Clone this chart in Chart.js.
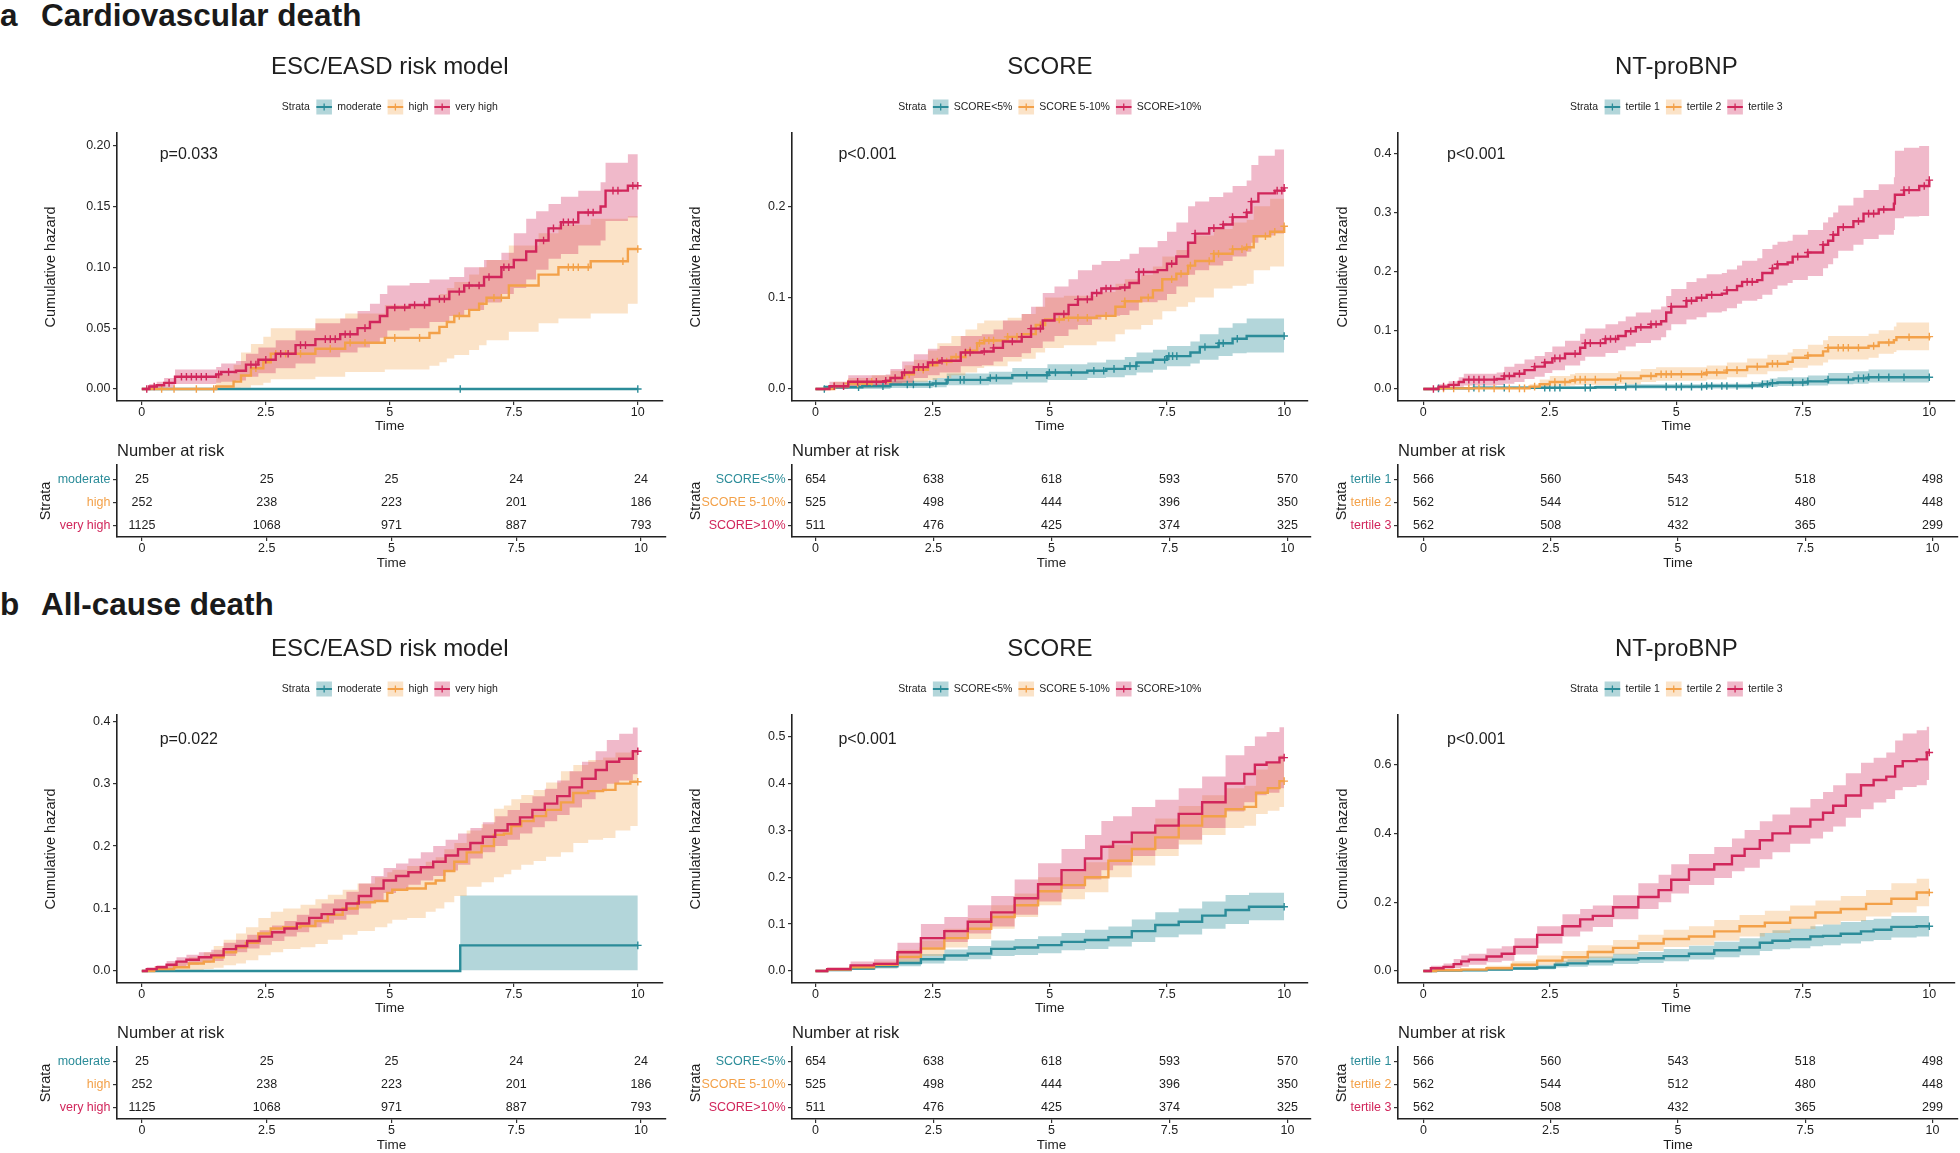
<!DOCTYPE html>
<html><head><meta charset="utf-8">
<script src="https://cdn.jsdelivr.net/npm/chart.js@4.4.1/dist/chart.umd.min.js"></script>
<style>
body{margin:0;background:#fff;width:1960px;height:1153px;position:relative;overflow:hidden}
canvas{position:absolute}
.hdr{position:absolute;font:bold 31.5px/31px "Liberation Sans",Arial,sans-serif;color:#1a1a1a;white-space:nowrap}
</style></head><body>
<div class="hdr" style="left:0;top:0">a</div><div class="hdr" style="left:41px;top:0">Cardiovascular death</div>
<div class="hdr" style="left:0;top:589px">b</div><div class="hdr" style="left:41px;top:589px">All-cause death</div>
<script>
/* KM cumulative hazard panels + number-at-risk tables */

const timeTicks=[0,2.5,5,7.5,10];
const strataEsc=['moderate','high','very high'];
const strataScore=['SCORE<5%','SCORE 5-10%','SCORE>10%'];
const strataBnp=['tertile 1','tertile 2','tertile 3'];
const riskEsc=[[25,25,25,24,24],[252,238,223,201,186],[1125,1068,971,887,793]];
const riskScore=[[654,638,618,593,570],[525,498,444,396,350],[511,476,425,374,325]];
const riskBnp=[[566,560,543,518,498],[562,544,512,480,448],[562,508,432,365,299]];
const yTicksA1=[0,0.05,0.1,0.15,0.2], yTicksA2=[0,0.1,0.2], yTicksA3=[0,0.1,0.2,0.3,0.4];
const yTicksB1=[0,0.1,0.2,0.3,0.4], yTicksB2=[0,0.1,0.2,0.3,0.4,0.5], yTicksB3=[0,0.2,0.4,0.6];

/* step tables: [time, cumhaz, lower, upper] */
const cvEscMod=[[0,0,0,0],[10,0,0,0]];
const cvEscHigh=[[0,0,0,0],[1.5,.002,0,.012],[1.85,.006,0,.020],[2.0,.011,.001,.030],[2.2,.017,.003,.037],[2.45,.022,.005,.043],
 [2.6,.029,.008,.050],[3.5,.033,.010,.058],[4.1,.038,.014,.062],[4.9,.042,.016,.069],[5.8,.046,.019,.073],[6.0,.051,.022,.078],
 [6.15,.055,.025,.083],[6.3,.060,.028,.088],[6.6,.065,.032,.094],[6.8,.070,.036,.100],[6.95,.075,.040,.106],[7.4,.085,.047,.118],
 [8.0,.094,.054,.128],[8.4,.100,.058,.135],[9.05,.105,.062,.140],[9.8,.115,.070,.142],[10,.115,.070,.142]];
const cvEscVhigh=[[0,0,0,0],[0.15,.002,0,.004],[0.3,.003,0,.006],[0.45,.005,.001,.009],[0.67,.010,.004,.016],[1.5,.012,.005,.018],
 [1.6,.014,.006,.021],[1.9,.015,.007,.023],[2.1,.020,.010,.029],[2.35,.024,.013,.034],[2.7,.029,.017,.040],[3.1,.036,.021,.048],
 [3.5,.041,.026,.054],[4.0,.045,.030,.058],[4.35,.050,.034,.064],[4.6,.055,.038,.070],[4.8,.060,.042,.078],[4.95,.067,.048,.085],
 [5.4,.069,.050,.087],[5.8,.074,.055,.090],[6.2,.080,.060,.092],[6.5,.085,.065,.100],[6.9,.092,.071,.106],[7.25,.100,.078,.112],
 [7.5,.106,.083,.128],[7.75,.113,.090,.140],[7.95,.122,.098,.146],[8.2,.132,.107,.152],[8.45,.137,.111,.158],[8.8,.145,.118,.163],
 [9.25,.150,.122,.170],[9.35,.163,.138,.186],[9.8,.167,.141,.193],[10,.167,.141,.194]];
const cvEscModCens=[6.42,10];
const cvEscHighCens=[0.4,0.65,1.1,1.45,2.3,2.7,2.9,3.2,3.8,4.2,4.5,5.1,5.6,6.4,7.1,7.25,8.6,8.7,8.8,9.0,9.7,10];
const cvEscVhighCens=[0.1,0.25,0.55,0.8,0.9,1.0,1.1,1.2,1.3,1.55,1.75,2.2,2.3,2.5,2.8,2.95,3.2,3.3,3.7,3.8,3.9,4.1,4.2,4.5,
 5.1,5.3,5.5,5.7,6.0,6.1,6.4,6.6,6.8,7.0,7.3,7.4,8.1,8.3,8.5,8.6,8.7,9.0,9.1,9.5,9.6,9.9,10];

const cvScoreLow=[[0,0,0,0],[0.2,.002,0,.004],[1.0,.003,0,.006],[1.6,.005,.001,.009],[2.5,.006,.002,.012],[2.8,.010,.004,.017],
 [3.7,.012,.005,.019],[4.2,.015,.007,.023],[4.95,.018,.010,.027],[5.8,.020,.012,.029],[6.2,.022,.013,.032],[6.6,.025,.015,.035],
 [6.85,.029,.018,.040],[7.2,.032,.021,.043],[7.5,.036,.025,.047],[8.0,.040,.028,.052],[8.2,.046,.032,.060],[8.6,.050,.036,.067],
 [8.9,.055,.039,.072],[9.2,.058,.040,.077],[10,.058,.040,.077]];
const cvScoreMid=[[0,0,0,0],[0.4,.003,0,.008],[0.7,.006,.001,.012],[1.2,.008,.002,.015],[1.6,.012,.004,.020],[1.9,.016,.006,.026],
 [2.1,.021,.008,.032],[2.4,.026,.010,.042],[2.6,.030,.012,.050],[2.9,.035,.015,.058],[3.2,.042,.018,.065],[3.45,.050,.023,.072],
 [3.6,.053,.025,.075],[4.1,.057,.030,.078],[4.4,.060,.033,.082],[4.7,.070,.040,.090],[4.9,.076,.045,.100],[5.3,.078,.048,.102],
 [6.0,.080,.052,.106],[6.4,.090,.060,.115],[6.6,.096,.065,.120],[6.95,.100,.070,.125],[7.2,.108,.076,.134],[7.4,.120,.085,.145],
 [7.7,.126,.090,.152],[7.95,.135,.095,.160],[8.1,.140,.100,.168],[8.5,.148,.110,.175],[8.9,.153,.113,.182],[9.2,.155,.115,.185],
 [9.35,.167,.130,.200],[9.7,.172,.134,.208],[10,.178,.138,.215]];
const cvScoreHigh=[[0,0,0,0],[0.3,.003,0,.008],[0.7,.008,.002,.015],[1.5,.009,.003,.016],[1.6,.012,.004,.022],[1.85,.018,.007,.030],
 [2.1,.024,.012,.038],[2.4,.029,.015,.044],[2.65,.031,.018,.047],[3.1,.040,.025,.058],[3.55,.041,.026,.060],[3.8,.045,.030,.065],
 [4.0,.052,.035,.075],[4.4,.057,.039,.082],[4.6,.066,.045,.090],[4.85,.075,.052,.105],[5.1,.082,.058,.112],[5.4,.092,.065,.120],
 [5.6,.098,.070,.130],[5.9,.105,.076,.136],[6.1,.110,.080,.140],[6.5,.111,.081,.142],[6.7,.116,.086,.148],[6.9,.128,.095,.155],
 [7.3,.130,.097,.162],[7.5,.137,.104,.172],[7.7,.145,.112,.182],[7.95,.160,.125,.200],[8.1,.170,.130,.205],[8.4,.176,.135,.210],
 [8.7,.180,.140,.215],[8.9,.188,.145,.222],[9.2,.193,.150,.228],[9.3,.205,.160,.245],[9.45,.214,.168,.255],[9.8,.217,.170,.262],
 [10,.220,.172,.265]];
const cvScoreLowCens=[0.19,0.92,1.44,1.96,2.09,2.44,2.57,2.83,3.09,3.17,3.52,3.73,3.86,4.51,4.94,4.99,5.12,5.46,5.94,6.15,
 6.37,6.71,6.84,7.45,7.54,7.62,7.71,8.31,8.61,8.7,9.0,10];
const cvScoreMidCens=[0.4,0.7,0.9,1.2,2.0,2.3,2.6,2.8,3.0,3.3,3.5,3.6,3.7,3.8,4.1,4.3,4.8,5.2,5.4,5.6,5.8,6.2,6.6,7.1,7.6,
 7.8,8.0,8.4,8.5,8.6,8.9,9.1,9.2,9.6,9.8,10];
const cvScoreHighCens=[0.4,0.6,0.9,1.1,1.3,1.5,1.7,1.9,2.2,2.3,2.5,2.7,3.2,3.3,3.6,3.8,4.2,4.4,4.6,4.8,5.3,5.6,5.8,6.0,6.2,
 6.3,6.6,6.9,7.0,7.6,8.1,8.5,8.7,8.9,9.2,9.3,9.85,9.95,10];

const cvBnpT1=[[0,0,0,0],[0.3,.001,0,.003],[1.0,.002,0,.004],[3.4,.003,0,.006],[4.0,.004,.001,.008],[5.6,.005,.001,.009],
 [6.5,.006,.002,.012],[6.7,.008,.003,.015],[6.85,.010,.004,.018],[7.0,.011,.005,.020],[7.6,.013,.006,.023],[8.0,.016,.008,.027],
 [8.5,.018,.009,.030],[8.8,.020,.011,.033],[10,.020,.011,.033]];
const cvBnpT2=[[0,0,0,0],[0.3,.001,0,.003],[2.1,.004,.001,.008],[2.3,.008,.003,.016],[2.5,.012,.005,.022],[2.9,.014,.006,.025],
 [3.0,.016,.007,.027],[3.85,.018,.008,.030],[4.3,.022,.012,.034],[4.6,.025,.014,.037],[5.6,.028,.016,.040],[6.0,.032,.020,.045],
 [6.4,.038,.025,.052],[6.8,.043,.030,.058],[7.2,.046,.032,.062],[7.3,.053,.036,.068],[7.6,.057,.040,.075],[7.9,.064,.045,.083],
 [8.0,.070,.050,.090],[8.8,.073,.053,.094],[9.0,.079,.060,.100],[9.3,.083,.063,.106],[9.35,.088,.066,.113],[10,.089,.066,.115]];
const cvBnpT3=[[0,0,0,0],[0.3,.004,.001,.008],[0.5,.007,.002,.013],[0.7,.012,.004,.020],[0.8,.016,.006,.026],[1.45,.017,.007,.028],
 [1.6,.022,.009,.038],[1.8,.026,.012,.043],[2.0,.032,.017,.050],[2.2,.038,.021,.056],[2.4,.045,.027,.063],[2.55,.052,.032,.072],
 [2.8,.060,.040,.082],[3.1,.070,.048,.094],[3.2,.078,.055,.103],[3.6,.085,.061,.110],[3.85,.090,.066,.115],[4.0,.098,.072,.123],
 [4.2,.105,.078,.130],[4.5,.110,.083,.135],[4.7,.115,.088,.140],[4.8,.130,.100,.158],[4.9,.140,.110,.170],[5.2,.150,.118,.182],
 [5.4,.155,.122,.188],[5.6,.160,.130,.195],[5.9,.162,.132,.197],[6.0,.168,.137,.203],[6.2,.175,.145,.210],[6.3,.182,.150,.218],
 [6.6,.185,.153,.222],[6.7,.197,.160,.238],[6.9,.205,.170,.245],[7.0,.212,.176,.250],[7.2,.215,.180,.252],[7.3,.225,.185,.262],
 [7.6,.232,.192,.270],[7.9,.245,.205,.283],[8.0,.252,.212,.292],[8.1,.262,.222,.300],[8.2,.275,.235,.312],[8.5,.285,.245,.325],
 [8.7,.298,.255,.338],[9.0,.305,.262,.348],[9.3,.315,.270,.360],[9.32,.330,.290,.405],[9.5,.338,.293,.410],[9.8,.345,.294,.413],
 [10,.355,.295,.415]];
const cvBnpT1Cens=[0.3,1.0,1.2,1.6,2.4,2.5,2.6,2.7,3.2,3.3,3.8,4.0,4.2,4.8,5.0,5.1,5.3,5.5,5.6,5.7,5.9,6.0,6.2,6.5,6.7,
 6.8,6.9,7.3,7.5,7.6,8.0,8.4,8.6,8.7,8.8,9.0,9.2,9.5,10];
const cvBnpT2Cens=[0.4,0.6,0.9,1.1,1.4,1.7,1.9,2.0,2.2,2.6,2.8,3.0,3.1,3.2,3.4,3.9,4.5,4.7,4.8,4.9,5.1,5.5,5.6,5.8,6.0,
 6.2,6.6,6.9,7.0,7.6,8.0,8.2,8.3,8.4,8.6,8.9,9.2,9.6,10];
const cvBnpT3Cens=[0.2,0.4,0.6,0.9,1.0,1.1,1.2,1.4,1.6,1.7,1.9,2.2,2.4,2.6,2.7,3.0,3.2,3.3,3.5,3.6,3.7,3.8,4.1,4.3,4.5,
 4.6,4.9,5.2,5.3,5.5,5.7,6.0,6.4,6.5,6.9,7.0,7.4,7.6,7.9,8.1,8.3,8.6,8.8,8.9,9.1,9.5,9.6,9.9,10];

/* row b: moderate has one exact jump, the rest are readings at sample times */
const acEscMod=[[0,0,0,0],[6.42,.041,.001,.121],[10,.041,.001,.121]];
const acEscHigh=[[0,0,0,0],[0.5,.003,0,.008],[0.8,.006,0,.014],[1.1,.012,.001,.022],[1.4,.015,.003,.030],[1.5,.022,.005,.040],
 [1.8,.030,.009,.050],[2.0,.038,.012,.060],[2.2,.045,.017,.070],[2.5,.060,.025,.085],[2.7,.068,.030,.095],[3.0,.070,.035,.100],
 [3.4,.072,.038,.106],[3.6,.080,.043,.115],[3.9,.090,.050,.122],[4.2,.100,.058,.130],[4.5,.110,.064,.140],[4.9,.112,.070,.150],
 [5.0,.125,.076,.158],[5.1,.130,.082,.162],[5.6,.132,.085,.168],[5.85,.140,.095,.175],[6.0,.145,.100,.182],[6.2,.160,.110,.195],
 [6.4,.175,.120,.205],[6.7,.190,.135,.225],[7.0,.200,.142,.235],[7.2,.218,.150,.260],[7.4,.220,.155,.265],[7.5,.232,.162,.275],
 [7.8,.240,.170,.282],[8.0,.248,.176,.290],[8.3,.258,.183,.302],[8.6,.270,.190,.320],[8.8,.285,.205,.330],[9.2,.288,.210,.338],
 [9.4,.290,.213,.342],[9.7,.300,.225,.350],[10,.303,.232,.352]];
const acEscVhigh=[[0,0,0,0],[0.2,.003,0,.006],[0.4,.006,.001,.009],[0.6,.010,.004,.016],[0.8,.015,.008,.022],[1.0,.018,.010,.026],
 [1.3,.022,.013,.030],[1.5,.025,.016,.034],[1.8,.035,.024,.045],[2.0,.040,.030,.050],[2.25,.048,.036,.058],[2.5,.055,.042,.065],
 [2.75,.062,.048,.073],[3.0,.068,.055,.080],[3.25,.076,.062,.090],[3.5,.085,.070,.100],[3.75,.091,.076,.108],[4.0,.098,.082,.115],
 [4.25,.108,.090,.127],[4.5,.120,.100,.140],[4.75,.132,.112,.152],[5.0,.145,.125,.165],[5.25,.152,.131,.172],[5.5,.158,.138,.180],
 [5.75,.166,.145,.190],[6.0,.175,.152,.200],[6.25,.185,.161,.210],[6.5,.195,.170,.220],[6.75,.205,.180,.229],[7.0,.215,.190,.238],
 [7.25,.225,.200,.248],[7.5,.235,.210,.258],[7.75,.246,.220,.269],[8.0,.258,.230,.280],[8.25,.268,.240,.292],[8.5,.280,.250,.305],
 [8.75,.294,.262,.320],[9.0,.308,.275,.335],[9.3,.322,.288,.352],[9.45,.335,.300,.370],[9.8,.340,.305,.380],[10,.352,.315,.390]];

const acScoreLow=[[0,0,0,0],[0.5,.002,0,.004],[1.0,.005,.002,.008],[1.5,.010,.005,.016],[2.0,.017,.010,.025],[2.5,.025,.016,.036],
 [3.0,.033,.022,.046],[3.5,.037,.025,.053],[4.0,.047,.032,.065],[4.5,.050,.034,.068],[5.0,.055,.038,.074],[5.5,.062,.044,.081],
 [6.0,.066,.047,.088],[6.5,.072,.052,.095],[7.0,.085,.062,.110],[7.5,.098,.072,.125],[8.0,.105,.078,.133],[8.5,.118,.090,.148],
 [9.0,.130,.100,.162],[9.5,.137,.108,.167],[10,.137,.108,.167]];
const acScoreMid=[[0,0,0,0],[0.5,.003,.001,.007],[1.0,.008,.004,.012],[1.5,.013,.007,.020],[2.0,.030,.018,.045],[2.5,.048,.032,.065],
 [3.0,.070,.050,.090],[3.5,.090,.068,.113],[4.0,.115,.090,.140],[4.5,.140,.115,.165],[5.0,.170,.140,.200],[5.5,.183,.153,.212],
 [6.0,.200,.168,.232],[6.5,.235,.200,.270],[7.0,.260,.225,.297],[7.5,.285,.245,.325],[8.0,.310,.270,.352],[8.5,.330,.290,.375],
 [9.0,.345,.305,.390],[9.3,.350,.310,.395],[9.5,.380,.335,.430],[9.8,.390,.342,.445],[10,.405,.350,.460]];
const acScoreHigh=[[0,0,0,0],[0.5,.004,.001,.008],[1.0,.012,.005,.020],[1.5,.015,.008,.025],[2.0,.040,.025,.060],[2.5,.070,.050,.100],
 [3.0,.085,.062,.115],[3.5,.105,.080,.140],[4.0,.125,.095,.160],[4.5,.155,.120,.195],[5.0,.185,.148,.230],[5.5,.215,.175,.260],
 [6.0,.240,.195,.290],[6.2,.265,.215,.320],[6.5,.275,.225,.330],[7.0,.295,.245,.350],[7.5,.310,.260,.365],[8.0,.335,.280,.390],
 [8.5,.360,.305,.415],[9.0,.400,.340,.460],[9.3,.420,.360,.480],[9.45,.440,.375,.500],[9.8,.445,.380,.510],[10,.455,.390,.520]];

const acBnpT1=[[0,0,0,0],[0.5,.001,0,.002],[1.0,.002,0,.004],[1.5,.004,.001,.007],[2.0,.007,.003,.012],[2.5,.010,.005,.018],
 [2.7,.018,.010,.030],[3.0,.022,.012,.034],[3.5,.028,.016,.042],[4.0,.033,.020,.050],[4.5,.037,.023,.055],[5.0,.043,.028,.064],
 [5.5,.050,.033,.073],[6.0,.060,.040,.085],[6.5,.068,.046,.095],[6.8,.082,.058,.110],[7.0,.088,.063,.118],[7.5,.092,.066,.123],
 [7.8,.100,.072,.130],[8.0,.102,.075,.135],[8.5,.108,.080,.142],[8.8,.115,.086,.148],[9.0,.120,.090,.152],[9.5,.128,.097,.160],
 [10,.130,.100,.160]];
const acBnpT2=[[0,0,0,0],[0.5,.002,0,.004],[1.0,.004,.001,.008],[1.5,.008,.003,.015],[2.0,.018,.010,.028],[2.5,.030,.018,.045],
 [3.0,.040,.026,.058],[3.5,.055,.038,.075],[4.0,.067,.048,.090],[4.5,.080,.058,.105],[5.0,.093,.070,.120],[5.5,.100,.075,.130],
 [6.0,.115,.088,.148],[6.5,.130,.100,.163],[7.0,.140,.110,.175],[7.5,.155,.122,.190],[8.0,.170,.135,.205],[8.5,.180,.145,.218],
 [9.0,.195,.158,.235],[9.5,.210,.170,.255],[10,.228,.188,.268]];
const acBnpT3=[[0,0,0,0],[0.3,.008,.002,.015],[0.5,.012,.004,.022],[0.7,.020,.008,.035],[0.8,.028,.012,.045],[1.0,.033,.018,.050],
 [1.5,.042,.025,.065],[1.6,.050,.030,.072],[2.0,.070,.048,.095],[2.5,.105,.080,.130],[3.0,.130,.100,.165],[3.2,.150,.115,.180],
 [3.5,.160,.128,.190],[4.0,.185,.150,.220],[4.5,.215,.180,.255],[4.8,.235,.200,.280],[5.0,.265,.225,.310],[5.5,.295,.250,.340],
 [6.0,.310,.270,.360],[6.2,.335,.290,.385],[6.5,.355,.300,.410],[6.8,.380,.325,.435],[7.0,.400,.345,.455],[7.5,.420,.370,.475],
 [7.8,.440,.385,.500],[8.0,.460,.405,.520],[8.2,.480,.420,.540],[8.5,.510,.445,.575],[8.8,.540,.470,.605],[9.0,.555,.490,.620],
 [9.3,.565,.500,.635],[9.35,.595,.525,.670],[9.6,.610,.535,.690],[9.9,.615,.540,.700],[10,.635,.555,.710]];
const acEndCens=[10];

/* styling + layout */
const FONT='"Liberation Sans", Arial, Helvetica, sans-serif';
const INK='#1e1e1e';
const lineCol=['#2b8c99','#f3a149','#d1265b'];
const bandCol=['rgba(43,140,153,0.36)','rgba(243,161,73,0.30)','rgba(209,38,91,0.32)'];
const cols=[{left:0,axis:117,right:666,yT:50.7,sT:45.5,px:0.36},
            {left:660,axis:792,right:1311,yT:696.3,sT:696.3,px:0.49},
            {left:1320,axis:1398,right:1958,yT:1343,sT:1342.4,px:0.47}];
const rowOff=[0,582], pOff=[22,25];
/* exact jump times -> true, sampled readings -> 'middle' */
const EXACT=[true,true,true], SAMPLED=[true,'middle','middle'], SAMPLED3=['middle','middle','middle'];

const panels=[
 {r:0,c:0,title:'ESC/EASD risk model',strata:strataEsc,risk:riskEsc,p:'p=0.033',curves:[cvEscMod,cvEscHigh,cvEscVhigh],
  cens:[cvEscModCens,cvEscHighCens,cvEscVhighCens],ymin:-0.0099,ymax:0.2104,yt:yTicksA1,dig:2,st:EXACT},
 {r:0,c:1,title:'SCORE',strata:strataScore,risk:riskScore,p:'p<0.001',curves:[cvScoreLow,cvScoreMid,cvScoreHigh],
  cens:[cvScoreLowCens,cvScoreMidCens,cvScoreHighCens],ymin:-0.0131,ymax:0.28,yt:yTicksA2,dig:1,st:EXACT},
 {r:0,c:2,title:'NT-proBNP',strata:strataBnp,risk:riskBnp,p:'p<0.001',curves:[cvBnpT1,cvBnpT2,cvBnpT3],
  cens:[cvBnpT1Cens,cvBnpT2Cens,cvBnpT3Cens],ymin:-0.0204,ymax:0.435,yt:yTicksA3,dig:1,st:EXACT},
 {r:1,c:0,title:'ESC/EASD risk model',strata:strataEsc,risk:riskEsc,p:'p=0.022',curves:[acEscMod,acEscHigh,acEscVhigh],
  cens:[acEndCens,acEndCens,acEndCens],ymin:-0.0193,ymax:0.41,yt:yTicksB1,dig:1,st:SAMPLED},
 {r:1,c:1,title:'SCORE',strata:strataScore,risk:riskScore,p:'p<0.001',curves:[acScoreLow,acScoreMid,acScoreHigh],
  cens:[acEndCens,acEndCens,acEndCens],ymin:-0.0257,ymax:0.546,yt:yTicksB2,dig:1,st:SAMPLED3},
 {r:1,c:2,title:'NT-proBNP',strata:strataBnp,risk:riskBnp,p:'p<0.001',curves:[acBnpT1,acBnpT2,acBnpT3],
  cens:[acEndCens,acEndCens,acEndCens],ymin:-0.035,ymax:0.744,yt:yTicksB3,dig:1,st:SAMPLED3}
];

Chart.defaults.font.family=FONT;
Chart.defaults.color=INK;

const stepAt=(rows,t)=>{let v=0;for(const r of rows)if(r[0]<=t)v=r[1];return v;};

function mkCanvas(left,top,w,h){
  const c=document.createElement('canvas');c.width=w;c.height=h;
  c.style.left=left+'px';c.style.top=top+'px';c.style.width=w+'px';c.style.height=h+'px';
  document.body.appendChild(c);return c;
}
function xScale(h){return {type:'linear',min:-0.5,max:10.5,
  afterBuildTicks:s=>{s.ticks=timeTicks.map(v=>({value:v}));},afterFit:s=>{s.height=h;},
  ticks:{callback:v=>String(v),font:{size:12.5},color:INK,padding:0,maxRotation:0,autoSkip:false},
  grid:{drawOnChartArea:false,drawTicks:true,tickLength:4,color:'#333',lineWidth:1.2},
  border:{display:true,color:'#222',width:1.6},
  title:{display:true,text:'Time',font:{size:13.5,lineHeight:1},color:INK,padding:{top:0,bottom:0}}};}

function drawLegend(ctx,cx,cy,strata){
  ctx.font='10.5px '+FONT;ctx.textBaseline='middle';ctx.textAlign='left';
  const sw=15.6;
  let w=ctx.measureText('Strata').width+6.6;
  strata.forEach((s,i)=>{w+=sw+5.3+ctx.measureText(s).width+(i<2?6:0);});
  let x=cx-w/2;
  ctx.fillStyle=INK;ctx.fillText('Strata',x,cy);x+=ctx.measureText('Strata').width+6.6;
  strata.forEach((s,i)=>{
    ctx.fillStyle=bandCol[i];ctx.fillRect(x,cy-7.5,sw,15);
    ctx.strokeStyle=lineCol[i];ctx.lineWidth=2;
    ctx.beginPath();ctx.moveTo(x,cy);ctx.lineTo(x+sw,cy);ctx.stroke();
    ctx.lineWidth=1.3;ctx.beginPath();ctx.moveTo(x+sw/2,cy-3.5);ctx.lineTo(x+sw/2,cy+3.5);ctx.stroke();
    x+=sw+5.3;ctx.fillStyle=INK;ctx.fillText(s,x,cy);x+=ctx.measureText(s).width+6;
  });
}

function kmChart(p){
  const col=cols[p.c],top=rowOff[p.r]+40,W=col.right+2-col.left,H=393;
  const ds=[];
  p.curves.forEach((rows,i)=>{
    ds.push({data:rows.map(r=>({x:r[0],y:r[2]})),stepped:p.st[i],borderWidth:0,borderColor:'rgba(0,0,0,0)',pointRadius:0,fill:false,order:32-i});
    ds.push({data:rows.map(r=>({x:r[0],y:r[3]})),stepped:p.st[i],borderWidth:0,borderColor:'rgba(0,0,0,0)',pointRadius:0,fill:'-1',backgroundColor:bandCol[i],order:32-i});
  });
  p.curves.forEach((rows,i)=>{
    ds.push({data:rows.map(r=>({x:r[0],y:r[1]})),stepped:p.st[i],borderColor:lineCol[i],borderWidth:2.4,pointRadius:0,fill:false,order:12-i});
    ds.push({data:p.cens[i].map(t=>({x:t,y:stepAt(rows,t)})),showLine:false,pointStyle:'cross',pointRadius:3.8,
      pointBorderWidth:1.4,borderColor:lineCol[i],pointBorderColor:lineCol[i],fill:false,order:11.5-i});
  });
  const deco={id:'deco',afterDraw(ch){
    const {ctx,chartArea:a,scales:{x}}=ch;ctx.save();
    ctx.fillStyle=INK;ctx.textAlign='center';ctx.textBaseline='alphabetic';ctx.font='24px '+FONT;
    ctx.fillText(p.title,(a.left+a.right)/2,34);
    drawLegend(ctx,(a.left+a.right)/2,67,p.strata);
    ctx.fillStyle=INK;ctx.font='16px '+FONT;ctx.textAlign='left';ctx.textBaseline='middle';
    ctx.fillText(p.p,x.getPixelForValue(col.px),a.top+pOff[p.r]);
    ctx.restore();}};
  new Chart(mkCanvas(col.left,top,W,H),{type:'line',data:{datasets:ds},plugins:[deco],
    options:{responsive:false,animation:false,events:[],devicePixelRatio:1,
      layout:{padding:{left:0,top:93,right:2,bottom:0}},
      plugins:{legend:{display:false},tooltip:{enabled:false},filler:{propagate:false}},
      scales:{x:xScale(32),
        y:{type:'linear',min:p.ymin,max:p.ymax,
          afterBuildTicks:s=>{s.ticks=p.yt.map(v=>({value:v}));},afterFit:s=>{s.width=col.axis-col.left;},
          ticks:{callback:v=>v.toFixed(p.dig),font:{size:12.5},color:INK,padding:2.5},
          grid:{drawOnChartArea:false,drawTicks:true,tickLength:4,color:'#333',lineWidth:1.2},
          border:{display:true,color:'#222',width:1.6},
          title:{display:true,text:'Cumulative hazard',font:{size:14.5,lineHeight:1},color:INK,padding:{top:col.yT-col.left-7.25,bottom:0}}}}}});
}

function riskChart(p){
  const col=cols[p.c],top=rowOff[p.r]+440,W=col.right+2-col.left,H=130;
  const deco={id:'tab',afterDraw(ch){
    const {ctx,chartArea:a,scales:{x,y}}=ch;ctx.save();
    ctx.fillStyle=INK;ctx.font='16.5px '+FONT;ctx.textAlign='left';ctx.textBaseline='middle';
    ctx.fillText('Number at risk',a.left,11.7);
    ctx.font='12.5px '+FONT;ctx.textAlign='center';
    p.risk.forEach((row,i)=>row.forEach((n,j)=>ctx.fillText(String(n),x.getPixelForValue(timeTicks[j]),y.getPixelForValue(3-i))));
    ctx.restore();}};
  new Chart(mkCanvas(col.left,top,W,H),{type:'scatter',data:{datasets:[]},plugins:[deco],
    options:{responsive:false,animation:false,events:[],devicePixelRatio:1,
      layout:{padding:{left:0,top:25,right:2,bottom:0}},
      plugins:{legend:{display:false},tooltip:{enabled:false}},
      scales:{x:xScale(33),
        y:{type:'linear',min:0.52,max:3.65,
          afterBuildTicks:s=>{s.ticks=[1,2,3].map(v=>({value:v}));},afterFit:s=>{s.width=col.axis-col.left;},
          ticks:{callback:v=>p.strata[3-v],font:{size:12.5},color:c=>lineCol[3-c.tick.value],padding:2.5},
          grid:{drawOnChartArea:false,drawTicks:true,tickLength:4,color:'#333',lineWidth:1.2},
          border:{display:true,color:'#222',width:1.6},
          title:{display:true,text:'Strata',font:{size:14.5,lineHeight:1},color:INK,padding:{top:col.sT-col.left-7.25,bottom:0}}}}}});
}

panels.forEach(p=>{kmChart(p);riskChart(p);});
</script>
</body></html>
